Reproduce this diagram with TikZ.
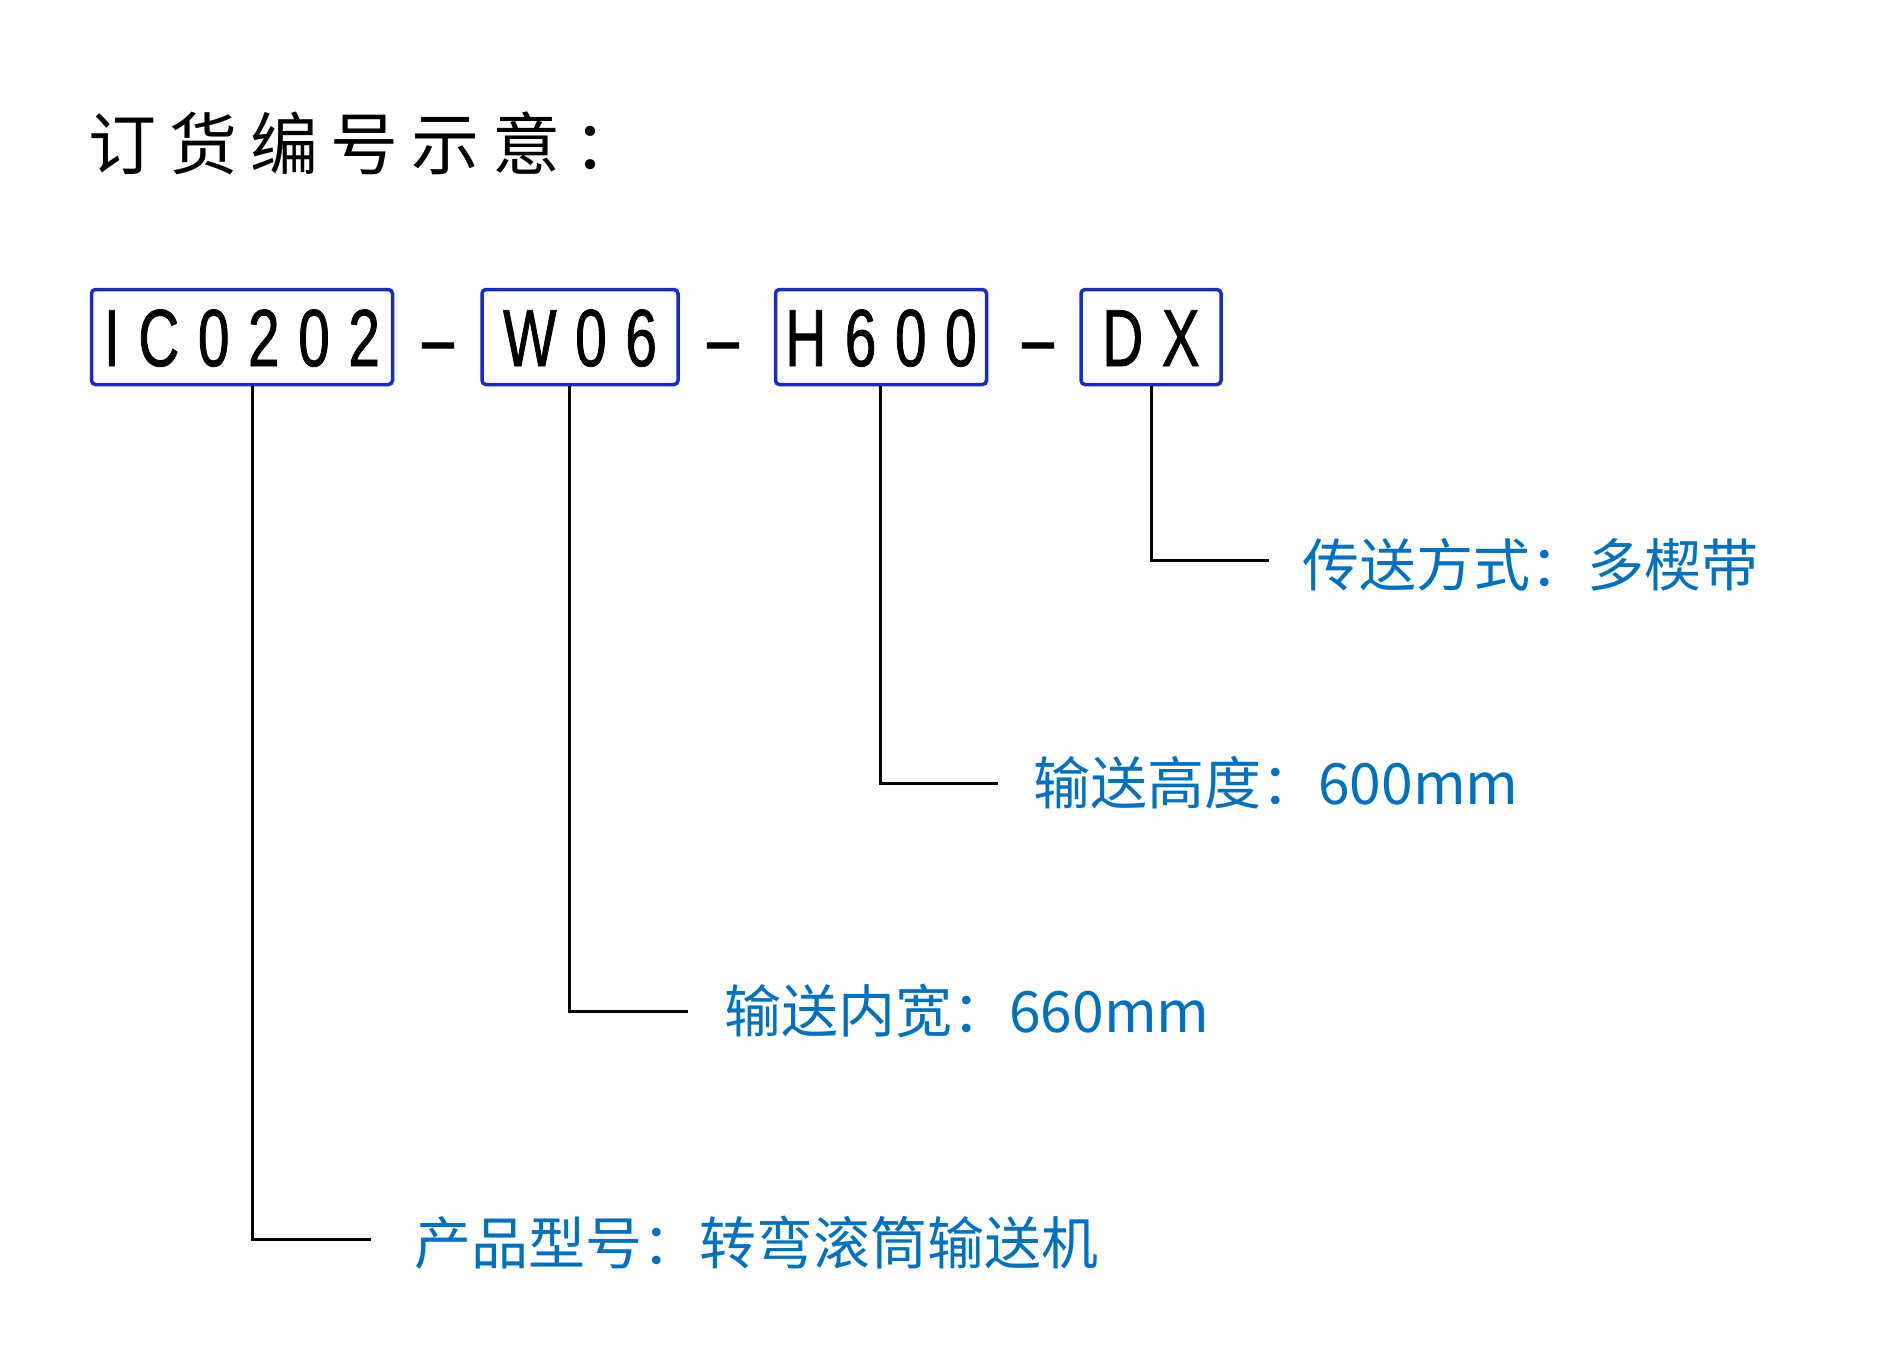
\documentclass[tikz,border=0pt]{standalone}
\usepackage{fontspec}
\setmainfont{Liberation Sans}
\newfontfamily\cjk{Noto Sans CJK SC}
\newfontfamily\cjktitle[LetterSpace=19]{Noto Sans CJK SC}
\newfontfamily\codefont[FakeStretch=0.7,FakeBold=1,LetterSpace=23]{Liberation Sans}
\usetikzlibrary{positioning}
\definecolor{boxblue}{RGB}{28,42,196}
\definecolor{textblue}{RGB}{0,112,192}

\begin{document}
\begin{tikzpicture}[x=1pt,y=-1pt,
  codebox/.style={draw=boxblue,line width=3.5pt,rounded corners=4pt,minimum height=95pt,inner sep=0pt,text height=58pt,text depth=0pt,font=\codefont\fontsize{81pt}{81pt}\selectfont},
  dashsym/.style={inner sep=0pt,text height=58pt,text depth=0pt,font=\codefont\fontsize{81pt}{81pt}\selectfont},
  lbl/.style={inner sep=0pt,text=textblue,font=\cjk\fontsize{57pt}{57pt}\selectfont},
  lead/.style={line width=3pt}]
\useasboundingbox (0,0) rectangle (1877,1369);

% title
\node[anchor=west,inner sep=0pt,font=\cjktitle\fontsize{68pt}{68pt}\selectfont] (title) at (88,143) {订货编号示意：};

% order code
\node[codebox,minimum width=301pt] (ic) at (242,337) {IC0202};
\node[dashsym] (d1) at (438,337) {–};
\node[codebox,minimum width=196pt] (w) at (580,337) {W06};
\node[dashsym] (d2) at (723,337) {–};
\node[codebox,minimum width=211pt] (h) at (881,337) {H600};
\node[dashsym] (d3) at (1038,337) {–};
\node[codebox,minimum width=140pt] (dx) at (1151,337) {DX};

% leader turns and ends
\coordinate (k1) at (252,1239);
\coordinate (e1) at (371,1239);
\coordinate (k2) at (569,1011);
\coordinate (e2) at (688,1011);
\coordinate (k3) at (880,783);
\coordinate (e3) at (998,783);
\coordinate (k4) at (1151,560);
\coordinate (e4) at (1269,560);

\foreach \b/\n in {ic/1,w/2,h/3,dx/4}
	\draw[lead] (\b.south -| k\n)--(k\n)--(e\n);

% labels
\node[lbl,right=43pt of e1,yshift=-4pt] (l1) {产品型号：转弯滚筒输送机};
\node[lbl,right=36pt of e2] (l2) {输送内宽：660mm};
\node[lbl,right=35pt of e3] (l3) {输送高度：600mm};
\node[lbl,right=33pt of e4,yshift=-5pt] (l4) {传送方式：多楔带};

\end{tikzpicture}
\end{document}
